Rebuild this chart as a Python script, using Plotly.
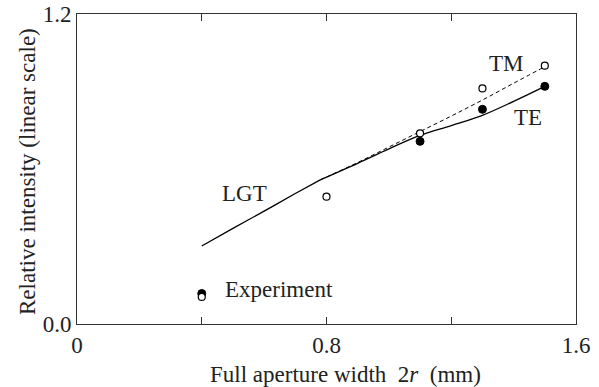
import plotly.graph_objects as go

# Theory curves (LGT), common part then split into TM / TE
lgt_x = [0.4, 0.5, 0.6, 0.7, 0.78]
lgt_y = [0.302, 0.370, 0.437, 0.505, 0.558]
tm_x = [0.78, 0.9, 1.0, 1.1, 1.2, 1.3, 1.4, 1.5]
tm_y = [0.558, 0.625, 0.685, 0.745, 0.805, 0.867, 0.932, 0.996]
te_x = [0.78, 0.9, 1.0, 1.1, 1.2, 1.3, 1.4, 1.5]
te_y = [0.558, 0.622, 0.678, 0.730, 0.768, 0.808, 0.862, 0.920]

# Experiment points
exp_te_x = [0.4, 1.1, 1.3, 1.5]
exp_te_y = [0.118, 0.707, 0.831, 0.920]
exp_tm_x = [0.4, 0.8, 1.1, 1.3, 1.5]
exp_tm_y = [0.105, 0.493, 0.738, 0.912, 1.000]

x_ticks = [0, 0.4, 0.8, 1.2, 1.6]
x_ticktext = ["0", "", "0.8", "", "1.6"]
y_ticks = [0.0, 1.2]
y_ticktext = ["0.0", "1.2"]

FONT = "Liberation Serif, Times New Roman, serif"
FS = 23

fig = go.Figure()
fig.add_trace(go.Scatter(x=lgt_x, y=lgt_y, mode="lines",
                         line=dict(color="black", width=1.3, shape="spline"), showlegend=False))
fig.add_trace(go.Scatter(x=tm_x, y=tm_y, mode="lines",
                         line=dict(color="black", width=1, dash="4px,3px", shape="spline"), showlegend=False))
fig.add_trace(go.Scatter(x=te_x, y=te_y, mode="lines",
                         line=dict(color="black", width=1.3, shape="spline"), showlegend=False))
fig.add_trace(go.Scatter(x=exp_te_x, y=exp_te_y, mode="markers",
                         marker=dict(symbol="circle", size=8, color="black",
                                     line=dict(color="black", width=1)), showlegend=False))
fig.add_trace(go.Scatter(x=exp_tm_x, y=exp_tm_y, mode="markers",
                         marker=dict(symbol="circle", size=7, color="white",
                                     line=dict(color="black", width=1.2)), showlegend=False))

annots = [
    dict(x=0.538, y=0.507, text="LGT", xanchor="center", yanchor="middle"),
    dict(x=1.377, y=1.010, text="TM", xanchor="center", yanchor="middle"),
    dict(x=1.445, y=0.800, text="TE", xanchor="center", yanchor="middle"),
    dict(x=0.468, y=0.132, text="Experiment", xanchor="left", yanchor="middle"),
]
for a in annots:
    fig.add_annotation(**a, xref="x", yref="y", showarrow=False,
                       font=dict(family=FONT, size=FS, color="#222"))

# axis titles
fig.add_annotation(text="Full aperture width  2<i>r</i>  (mm)", xref="paper", yref="paper",
                   x=0.5, y=0, xshift=19, yshift=-50, xanchor="center", yanchor="middle",
                   showarrow=False, font=dict(family=FONT, size=FS, color="#222"))
fig.add_annotation(text="Relative intensity (linear scale)", xref="paper", yref="paper",
                   x=0, y=0.5, xshift=-50, yshift=-3, textangle=-90, xanchor="center", yanchor="middle",
                   showarrow=False, font=dict(family=FONT, size=FS, color="#222"))

fig.update_layout(
    width=599, height=387,
    margin=dict(l=77, r=23, t=14, b=63, autoexpand=False),
    paper_bgcolor="white", plot_bgcolor="white",
    font=dict(family=FONT, size=FS, color="#222"),
    showlegend=False,
)
fig.update_xaxes(range=[0, 1.6], tickvals=x_ticks, ticktext=x_ticktext,
                 ticks="inside", ticklen=7, tickcolor="#333", tickwidth=1,
                 showline=True, linecolor="#333", linewidth=1, mirror="ticks",
                 showgrid=False, zeroline=False, ticklabelstandoff=0, automargin=False)
fig.update_yaxes(range=[0, 1.2], tickvals=y_ticks, ticktext=y_ticktext,
                 ticks="", showline=True, linecolor="#333", linewidth=1, mirror=True,
                 showgrid=False, zeroline=False, ticklabelstandoff=0, automargin=False)

fig.write_html("out.html", config={"displayModeBar": False},
               post_script="document.body.style.margin='0px';document.body.style.overflow='hidden';")
